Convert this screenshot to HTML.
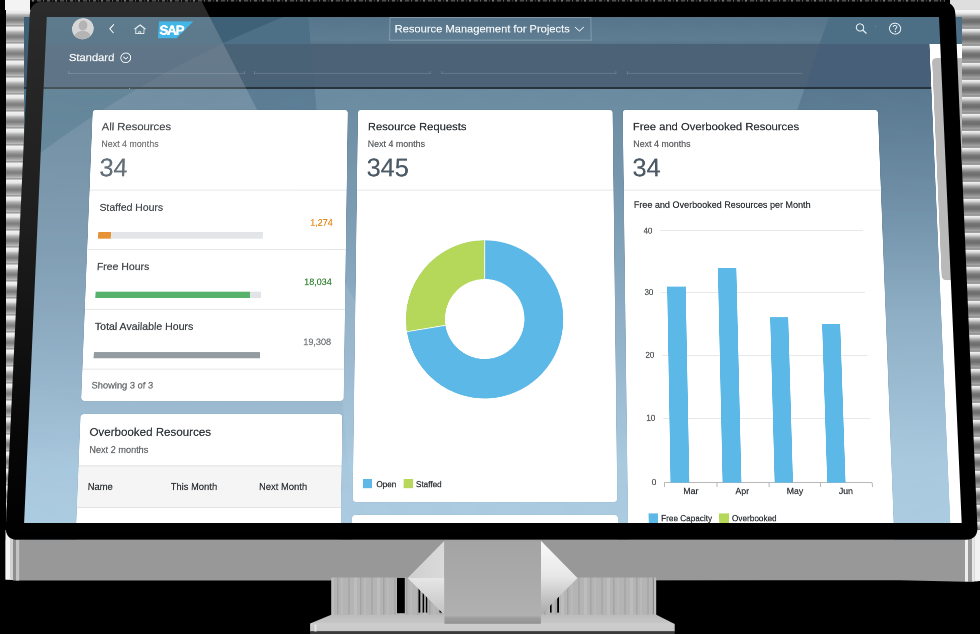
<!DOCTYPE html>
<html><head><meta charset="utf-8"><style>
html,body{margin:0;padding:0}
body{width:980px;height:634px;background:#000;overflow:hidden;position:relative;font-family:"Liberation Sans", sans-serif}
.t{position:absolute;white-space:nowrap;line-height:1;font-family:"Liberation Sans", sans-serif;-webkit-text-stroke:0.22px currentColor}
#clip{position:absolute;left:24px;top:16.7px;width:938px;height:523px;overflow:hidden;background:#7090a6}
#screen{position:absolute;left:0;top:0;width:1930px;height:1112px;transform-origin:0 0;transform:matrix3d(0.97508197,-0.00000000,0,-0.0000000000,-0.04716790,0.95035652,0,-0.0000956947,0,0,1,0,46.800000,16.700000,0,1) scale(0.5)}
#inner{position:absolute;left:0;top:0;width:1px;height:1px;zoom:2}
.streak{position:absolute;background:repeating-linear-gradient(180deg,#f2f2f2 0px,#e6e6e6 3px,#b4b4b4 5px,#8a8a8a 8px,#7c7c7c 10px,#9a9a9a 12.5px,#b8b8b8 14.5px,#8e8e8e 16px,#f2f2f2 17px)}
.streakR{position:absolute;background:repeating-linear-gradient(180deg,#f4f4f4 0px,#dcdcdc 2px,#a4a4a4 4.5px,#767676 7.5px,#6c6c6c 10px,#8c8c8c 13px,#a8a8a8 15px,#7a7a7a 16.3px,#f4f4f4 17px)}
</style></head><body>
<div class="streak" style="left:5.5px;top:10px;width:26px;height:570px"></div>
<div class="streakR" style="left:955px;top:12px;width:25px;height:568px"></div>
<div style="position:absolute;left:5px;top:0;width:25px;height:10px;background:#f3f3f3"></div>
<div style="position:absolute;left:950px;top:0;width:30px;height:10px;background:#dedede"></div><div style="position:absolute;left:950px;top:10px;width:30px;height:2px;background:#f4f4f4"></div>
<div id="clip"><div id="screen" style="margin-left:-24px;margin-top:-16.7px"><div id="inner">
<svg style="position:absolute;left:-40px;top:-20px" width="1000" height="560" viewBox="-40 -20 1000 560"><defs><clipPath id="band1"><rect x="-40" y="28.5" width="1000" height="45.1"/></clipPath><clipPath id="band0"><rect x="-40" y="-20.0" width="1000" height="48.5"/></clipPath><clipPath id="outC"><path clip-rule="evenodd" d="M -40 -20 H 960 V 540 H -40 Z M -411.3 978.6 a 1058.1 1058.1 0 1 0 2116.2 0 a 1058.1 1058.1 0 1 0 -2116.2 0 Z"/></clipPath><clipPath id="inC"><path d="M -411.3 978.6 a 1058.1 1058.1 0 1 0 2116.2 0 a 1058.1 1058.1 0 1 0 -2116.2 0 Z"/></clipPath><linearGradient id="hdrC" gradientUnits="userSpaceOnUse" x1="0" y1="0" x2="0" y2="28.5"><stop offset="0" stop-color="#57758a"/><stop offset="0.85" stop-color="#5e7d92"/><stop offset="1" stop-color="#587489"/></linearGradient><linearGradient id="cbg" gradientUnits="userSpaceOnUse" x1="0" y1="73" x2="0" y2="506"><stop offset="0" stop-color="#6a8aa0"/><stop offset="0.29" stop-color="#7b9bb2"/><stop offset="0.87" stop-color="#a9c9df"/><stop offset="1" stop-color="#abcbe1"/></linearGradient><linearGradient id="gB" gradientUnits="userSpaceOnUse" x1="0" y1="73" x2="0" y2="506"><stop offset="0" stop-color="#002846" stop-opacity="0.15"/><stop offset="0.4" stop-color="#002846" stop-opacity="0.12"/><stop offset="0.95" stop-color="#002846" stop-opacity="0"/></linearGradient><linearGradient id="gD" gradientUnits="userSpaceOnUse" x1="0" y1="73" x2="0" y2="300"><stop offset="0" stop-color="#001e3c" stop-opacity="0.17"/><stop offset="1" stop-color="#001e3c" stop-opacity="0"/></linearGradient></defs><rect x="-40" y="73" width="1000" height="467" fill="url(#cbg)"/><g clip-path="url(#inC)"><polygon points="-40,-20 266,-20 325,540 -40,540" fill="url(#gB)"/></g><g clip-path="url(#outC)"><rect x="-40" y="73" width="600" height="200" fill="#003750" fill-opacity="0.3"/></g><polygon points="809.5,-20 960,-20 960,540 605,540" fill="url(#gD)"/><g clip-path="url(#band0)"><rect x="-40" y="-20.0" width="1000" height="48.5" fill="url(#hdrC)"/><g clip-path="url(#inC)"><polygon points="-40,-20 266,-20 325,540 -40,540" fill="#4e7086"/></g><g clip-path="url(#outC)"><rect x="-40" y="-20.0" width="600" height="48.5" fill="#3f6178"/></g><polygon points="809.5,-20 960,-20 960,540 605,540" fill="#4d6f85"/></g><g clip-path="url(#band1)"><rect x="-40" y="28.5" width="1000" height="45.1" fill="#4c6377"/><g clip-path="url(#inC)"><polygon points="-40,-20 266,-20 325,540 -40,540" fill="#4a6276"/></g><g clip-path="url(#outC)"><rect x="-40" y="28.5" width="600" height="45.1" fill="#435c71"/></g><polygon points="809.5,-20 960,-20 960,540 605,540" fill="#475f79"/></g></svg>
<div style="position:absolute;left:-30.00px;top:73.60px;width:933.80px;height:2.00px;background:#27343d;"></div>
<div style="position:absolute;left:24.60px;top:58.70px;width:179.80px;height:1.00px;background:rgba(190,205,218,0.24);"></div>
<div style="position:absolute;left:24.60px;top:56.70px;width:0.80px;height:3.00px;background:rgba(190,205,218,0.24);"></div>
<div style="position:absolute;left:203.60px;top:56.70px;width:0.80px;height:3.00px;background:rgba(190,205,218,0.24);"></div>
<div style="position:absolute;left:213.90px;top:58.70px;width:179.90px;height:1.00px;background:rgba(190,205,218,0.24);"></div>
<div style="position:absolute;left:213.90px;top:56.70px;width:0.80px;height:3.00px;background:rgba(190,205,218,0.24);"></div>
<div style="position:absolute;left:393.00px;top:56.70px;width:0.80px;height:3.00px;background:rgba(190,205,218,0.24);"></div>
<div style="position:absolute;left:405.00px;top:58.70px;width:178.50px;height:1.00px;background:rgba(190,205,218,0.24);"></div>
<div style="position:absolute;left:405.00px;top:56.70px;width:0.80px;height:3.00px;background:rgba(190,205,218,0.24);"></div>
<div style="position:absolute;left:582.70px;top:56.70px;width:0.80px;height:3.00px;background:rgba(190,205,218,0.24);"></div>
<div style="position:absolute;left:594.00px;top:58.70px;width:179.20px;height:1.00px;background:rgba(190,205,218,0.24);"></div>
<div style="position:absolute;left:594.00px;top:56.70px;width:0.80px;height:3.00px;background:rgba(190,205,218,0.24);"></div>
<div style="position:absolute;left:772.40px;top:56.70px;width:0.80px;height:3.00px;background:rgba(190,205,218,0.24);"></div>
<div class="t" style="left:24.52px;top:37.10px;font-size:11.40px;color:#f2f5f7;">Standard</div>
<svg style="position:absolute;left:76.4px;top:37.2px" width="12" height="12" viewBox="0 0 12 12"><circle cx="6" cy="6" r="5" fill="none" stroke="#e8eef2" stroke-width="0.9"/><path d="M3.6 5 L6 7.3 L8.4 5" fill="none" stroke="#e8eef2" stroke-width="0.9"/></svg>
<svg style="position:absolute;left:26px;top:1px" width="24" height="24" viewBox="0 0 24 24"><defs><clipPath id="av"><circle cx="11.5" cy="11.6" r="11.1"/></clipPath></defs><circle cx="11.5" cy="11.6" r="11.1" fill="#cfcfcf"/><g clip-path="url(#av)" fill="#a6a6a6"><ellipse cx="11.5" cy="8.2" rx="4.5" ry="5.3"/><ellipse cx="11.5" cy="22.5" rx="9.2" ry="8.6"/></g></svg>
<svg style="position:absolute;left:62.3px;top:6px" width="10" height="14" viewBox="0 0 10 14"><path d="M6.6 2.0 L2.6 6.6 L6.6 11.2" fill="none" stroke="#eef3f6" stroke-width="1.05"/></svg>
<svg style="position:absolute;left:89px;top:6.5px" width="14" height="12" viewBox="0 0 14 12"><path d="M1.3 6.6 L7 2.2 L12.7 6.6" fill="none" stroke="#dde5ea" stroke-width="1.35"/><path d="M2.8 6 V11 H11.2 V6 M6 11 V9.3 H8 V11" fill="none" stroke="#dde5ea" stroke-width="0.95"/></svg>
<svg style="position:absolute;left:115.2px;top:4.8px" width="37" height="18" viewBox="0 0 37 18"><polygon points="0,0 35.4,0 18.8,17.6 0,17.6" fill="#1ea8e2"/><text x="1.0" y="13.7" font-family="Liberation Sans" font-weight="bold" font-size="13.6" fill="#fff" stroke="#fff" stroke-width="0.5" letter-spacing="-1.15">SAP</text></svg>
<div style="position:absolute;left:351.4px;top:0.7px;width:205px;height:22.4px;border:1px solid rgba(190,210,222,0.4);"></div>
<div class="t" style="left:356.92px;top:7.20px;font-size:11.40px;color:#f2f5f7;">Resource Management for Projects</div>
<svg style="position:absolute;left:540.5px;top:9.3px" width="12" height="8" viewBox="0 0 12 8"><path d="M1 1.2 L5.6 5.6 L10.2 1.2" fill="none" stroke="#e8eef2" stroke-width="0.95"/></svg>
<svg style="position:absolute;left:828px;top:6px" width="14" height="14" viewBox="0 0 14 14"><circle cx="5.6" cy="5.3" r="3.8" fill="none" stroke="#e8eef2" stroke-width="1.1"/><path d="M8.3 8 L12 11.6" stroke="#e8eef2" stroke-width="1.3"/></svg>
<svg style="position:absolute;left:862.5px;top:5.5px" width="14" height="14" viewBox="0 0 14 14"><circle cx="7" cy="7" r="5.7" fill="none" stroke="#e8eef2" stroke-width="1"/><path d="M5.1 5.4 C5.1 3.4 8.9 3.4 8.9 5.3 C8.9 6.6 7 6.7 7 8.3" fill="none" stroke="#e8eef2" stroke-width="1"/><circle cx="7" cy="10" r="0.7" fill="#e8eef2"/></svg>
<div style="position:absolute;left:903.80px;top:28.50px;width:41.20px;height:491.50px;background:#ffffff;"></div>
<div style="position:absolute;left:906.20px;top:43.60px;width:38.80px;height:225.90px;background:#b9b9b9;border-radius:4px;"></div>
<div style="position:absolute;left:51.10px;top:97.10px;width:258.90px;height:291.30px;background:#fff;border-radius:3px;box-shadow:0 0 1px rgba(0,0,0,0.15)"></div>
<div class="t" style="left:60.72px;top:108.60px;font-size:11.40px;color:#2e3236;">All Resources</div>
<div class="t" style="left:60.96px;top:127.33px;font-size:9.00px;color:#5f6265;">Next 4 months</div>
<div class="t" style="left:60.07px;top:143.71px;font-size:25.50px;color:#4c5a66;">34</div>
<div style="position:absolute;left:51.10px;top:178.70px;width:258.90px;height:1.00px;background:#e5e5e5;"></div>
<div class="t" style="left:61.67px;top:191.21px;font-size:10.50px;color:#2e3236;">Staffed Hours</div>
<div class="t" style="left:296.56px;transform:translateX(-100%);top:207.63px;font-size:9.00px;color:#e8891b;">1,274</div>
<div style="position:absolute;left:61.60px;top:221.70px;width:165.10px;height:6.30px;background:#dfe3e5;"></div>
<div style="position:absolute;left:61.60px;top:221.70px;width:12.20px;height:6.30px;background:#e2861d;"></div>
<div style="position:absolute;left:51.10px;top:238.40px;width:258.90px;height:1.00px;background:#e5e5e5;"></div>
<div class="t" style="left:61.27px;top:250.51px;font-size:10.50px;color:#2e3236;">Free Hours</div>
<div class="t" style="left:296.56px;transform:translateX(-100%);top:267.03px;font-size:9.00px;color:#2b7d2b;">18,034</div>
<div style="position:absolute;left:61.20px;top:281.00px;width:165.00px;height:6.30px;background:#dfe3e5;"></div>
<div style="position:absolute;left:61.20px;top:281.00px;width:154.00px;height:6.30px;background:#48ab5f;"></div>
<div style="position:absolute;left:51.10px;top:298.10px;width:258.90px;height:1.00px;background:#e5e5e5;"></div>
<div class="t" style="left:61.67px;top:310.11px;font-size:10.50px;color:#2e3236;">Total Available Hours</div>
<div class="t" style="left:296.76px;transform:translateX(-100%);top:326.53px;font-size:9.00px;color:#6a6d70;">19,308</div>
<div style="position:absolute;left:61.50px;top:340.80px;width:165.10px;height:6.20px;background:#8c969b;"></div>
<div style="position:absolute;left:51.10px;top:357.20px;width:258.90px;height:1.00px;background:#e5e5e5;"></div>
<div class="t" style="left:60.65px;top:368.91px;font-size:9.20px;color:#5f6265;">Showing 3 of 3</div>
<div style="position:absolute;left:320.30px;top:97.10px;width:258.90px;height:389.10px;background:#fff;border-radius:3px;box-shadow:0 0 1px rgba(0,0,0,0.15)"></div>
<div class="t" style="left:330.62px;top:108.60px;font-size:11.40px;color:#2e3236;">Resource Requests</div>
<div class="t" style="left:330.76px;top:127.33px;font-size:9.00px;color:#5f6265;">Next 4 months</div>
<div class="t" style="left:329.97px;top:143.71px;font-size:25.50px;color:#4c5a66;">345</div>
<div style="position:absolute;left:320.30px;top:178.70px;width:258.90px;height:1.00px;background:#e5e5e5;"></div>
<svg style="position:absolute;left:0;top:0;overflow:visible" width="1" height="1"><circle cx="449.30" cy="308.00" r="58.90" fill="none" stroke="#5cb8e6" stroke-width="38.80"/><path d="M449.30 308.00 L449.30 229.70 A78.30 78.30 0 0 0 372.04 320.73 Z" fill="#b6d85a"/><circle cx="449.30" cy="308.00" r="39.50" fill="#fff"/><path d="M449.30 268.50 L449.30 229.70 M410.33 314.42 L372.04 320.73" stroke="#fff" stroke-width="0.8"/></svg>
<div style="position:absolute;left:329.90px;top:464.20px;width:9.30px;height:8.70px;background:#5cb8e6;"></div>
<div class="t" style="left:343.32px;top:465.53px;font-size:8.00px;color:#2e3236;">Open</div>
<div style="position:absolute;left:370.10px;top:464.20px;width:9.30px;height:8.70px;background:#b6d85a;"></div>
<div class="t" style="left:382.12px;top:465.53px;font-size:8.00px;color:#2e3236;">Staffed</div>
<div style="position:absolute;left:319.80px;top:498.60px;width:259.90px;height:61.40px;background:#fff;border-radius:3px;box-shadow:0 0 1px rgba(0,0,0,0.15)"></div>
<div style="position:absolute;left:589.70px;top:97.10px;width:259.00px;height:462.90px;background:#fff;border-radius:3px;box-shadow:0 0 1px rgba(0,0,0,0.15)"></div>
<div class="t" style="left:599.52px;top:108.60px;font-size:11.40px;color:#2e3236;">Free and Overbooked Resources</div>
<div class="t" style="left:599.66px;top:127.33px;font-size:9.00px;color:#5f6265;">Next 4 months</div>
<div class="t" style="left:598.47px;top:143.71px;font-size:25.50px;color:#4c5a66;">34</div>
<div style="position:absolute;left:589.70px;top:178.70px;width:259.00px;height:1.00px;background:#e5e5e5;"></div>
<div class="t" style="left:599.35px;top:189.50px;font-size:9.10px;color:#2e3236;">Free and Overbooked Resources per Month</div>
<div style="position:absolute;left:625.30px;top:219.70px;width:203.70px;height:1.00px;background:#e8e8e8;"></div>
<div class="t" style="left:617.62px;transform:translateX(-100%);top:216.33px;font-size:8.00px;color:#5a5d60;">40</div>
<div style="position:absolute;left:625.30px;top:281.50px;width:203.70px;height:1.00px;background:#e8e8e8;"></div>
<div class="t" style="left:617.62px;transform:translateX(-100%);top:278.13px;font-size:8.00px;color:#5a5d60;">30</div>
<div style="position:absolute;left:625.30px;top:343.30px;width:203.70px;height:1.00px;background:#e8e8e8;"></div>
<div class="t" style="left:617.62px;transform:translateX(-100%);top:339.93px;font-size:8.00px;color:#5a5d60;">20</div>
<div style="position:absolute;left:625.30px;top:405.10px;width:203.70px;height:1.00px;background:#e8e8e8;"></div>
<div class="t" style="left:617.62px;transform:translateX(-100%);top:401.73px;font-size:8.00px;color:#5a5d60;">10</div>
<div class="t" style="left:617.62px;transform:translateX(-100%);top:463.53px;font-size:8.00px;color:#5a5d60;">0</div>
<div style="position:absolute;left:625.30px;top:466.90px;width:203.70px;height:1.00px;background:#b8b8b8;"></div>
<div style="position:absolute;left:624.80px;top:467.40px;width:1.00px;height:4.00px;background:#b8b8b8;"></div>
<div style="position:absolute;left:676.40px;top:467.40px;width:1.00px;height:4.00px;background:#b8b8b8;"></div>
<div style="position:absolute;left:727.50px;top:467.40px;width:1.00px;height:4.00px;background:#b8b8b8;"></div>
<div style="position:absolute;left:777.80px;top:467.40px;width:1.00px;height:4.00px;background:#b8b8b8;"></div>
<div style="position:absolute;left:828.40px;top:467.40px;width:1.00px;height:4.00px;background:#b8b8b8;"></div>
<div style="position:absolute;left:631.70px;top:275.82px;width:18.40px;height:191.58px;background:#5cb8e6;"></div>
<div style="position:absolute;left:682.50px;top:257.28px;width:18.40px;height:210.12px;background:#5cb8e6;"></div>
<div style="position:absolute;left:733.30px;top:306.72px;width:18.40px;height:160.68px;background:#5cb8e6;"></div>
<div style="position:absolute;left:784.80px;top:312.90px;width:18.40px;height:154.50px;background:#5cb8e6;"></div>
<div class="t" style="left:651.30px;top:471.32px;width:40px;margin-left:-20px;text-align:center;font-size:8.6px;color:#2e3236">Mar</div>
<div class="t" style="left:701.50px;top:471.32px;width:40px;margin-left:-20px;text-align:center;font-size:8.6px;color:#2e3236">Apr</div>
<div class="t" style="left:753.20px;top:471.32px;width:40px;margin-left:-20px;text-align:center;font-size:8.6px;color:#2e3236">May</div>
<div class="t" style="left:803.00px;top:471.32px;width:40px;margin-left:-20px;text-align:center;font-size:8.6px;color:#2e3236">Jun</div>
<div style="position:absolute;left:609.30px;top:497.20px;width:9.30px;height:8.80px;background:#5cb8e6;"></div>
<div class="t" style="left:621.72px;top:497.83px;font-size:8.00px;color:#2e3236;">Free Capacity</div>
<div style="position:absolute;left:678.50px;top:497.20px;width:9.30px;height:8.80px;background:#b6d85a;"></div>
<div class="t" style="left:690.92px;top:497.83px;font-size:8.00px;color:#2e3236;">Overbooked</div>
<div style="position:absolute;left:51.10px;top:401.70px;width:257.80px;height:158.30px;background:#fff;border-radius:3px;box-shadow:0 0 1px rgba(0,0,0,0.15)"></div>
<div class="t" style="left:60.32px;top:413.10px;font-size:11.40px;color:#2e3236;">Overbooked Resources</div>
<div class="t" style="left:60.86px;top:431.33px;font-size:9.00px;color:#5f6265;">Next 2 months</div>
<div style="position:absolute;left:51.10px;top:451.70px;width:257.80px;height:39.80px;background:#f5f5f5;"></div>
<div style="position:absolute;left:51.10px;top:451.20px;width:257.80px;height:1.00px;background:#e3e3e3;"></div>
<div style="position:absolute;left:51.10px;top:491.00px;width:257.80px;height:1.00px;background:#e3e3e3;"></div>
<div class="t" style="left:60.75px;top:467.11px;font-size:9.20px;color:#2e3236;">Name</div>
<div class="t" style="left:141.95px;top:467.11px;font-size:9.20px;color:#2e3236;">This Month</div>
<div class="t" style="left:228.55px;top:467.11px;font-size:9.20px;color:#2e3236;">Next Month</div>
</div></div></div>
<svg style="position:absolute;left:0;top:0" width="980" height="634" viewBox="0 0 980 634">
<defs>
<clipPath id="mon"><path d="M 42.9 1.8 L 942.3 1.8 Q 954.8 1.8 955.4 14.3 L 977.4 527.2 Q 978.0 539.7 965.5 539.7 L 18.0 539.7 Q 5.3 539.7 5.8 527.2 L 29.8 14.3 Q 30.4 1.8 42.9 1.8 Z"/></clipPath>
<linearGradient id="refl" x1="0" y1="0" x2="0" y2="1"><stop offset="0" stop-color="#fff" stop-opacity="0.17"/><stop offset="0.42" stop-color="#fff" stop-opacity="0.115"/><stop offset="0.8" stop-color="#fff" stop-opacity="0.03"/><stop offset="1" stop-color="#fff" stop-opacity="0.0"/></linearGradient>
<linearGradient id="neck" x1="0" y1="0" x2="0" y2="1"><stop offset="0" stop-color="#a4a4a4"/><stop offset="0.5" stop-color="#aaaaaa"/><stop offset="0.9" stop-color="#b0b0b0"/><stop offset="0.93" stop-color="#9e9e9e"/><stop offset="1" stop-color="#929292"/></linearGradient>
<linearGradient id="wingLt" x1="0" y1="0" x2="1" y2="0"><stop offset="0" stop-color="#cfcfcf"/><stop offset="1" stop-color="#dadada"/></linearGradient>
<linearGradient id="wingLb" x1="0" y1="0" x2="0" y2="1"><stop offset="0" stop-color="#e6e6e6"/><stop offset="1" stop-color="#c2c2c2"/></linearGradient>
<linearGradient id="wingRt" x1="0" y1="0" x2="0" y2="1"><stop offset="0" stop-color="#fbfbfb"/><stop offset="1" stop-color="#e6e6e6"/></linearGradient>
<linearGradient id="wingRb" x1="0" y1="0" x2="0" y2="1"><stop offset="0" stop-color="#e4e4e4"/><stop offset="1" stop-color="#a8a8a8"/></linearGradient>
<linearGradient id="base" x1="0" y1="0" x2="0" y2="1"><stop offset="0" stop-color="#bcbcbc"/><stop offset="0.5" stop-color="#c6c6c6"/><stop offset="0.53" stop-color="#cdcdcd"/><stop offset="1" stop-color="#c8c8c8"/></linearGradient>
<pattern id="stk" x="0" y="0" width="23" height="40" patternUnits="userSpaceOnUse"><rect width="23" height="40" fill="#b4b4b4"/><rect x="3" width="2" height="40" fill="#a9a9a9"/><rect x="9" width="3" height="40" fill="#bdbdbd"/><rect x="15" width="1.5" height="40" fill="#a4a4a4"/><rect x="19" width="2" height="40" fill="#b9b9b9"/></pattern>
<pattern id="noise" x="0" y="0" width="23" height="2" patternUnits="userSpaceOnUse"><rect width="23" height="2" fill="#111"/><rect x="1" width="3" height="2" fill="#5a5a5a"/><rect x="6" width="1" height="2" fill="#3a3a3a"/><rect x="9" width="2" height="2" fill="#707070"/><rect x="14" width="4" height="2" fill="#4a4a4a"/><rect x="20" width="1" height="2" fill="#666"/></pattern>
</defs>
<!-- chin -->
<polygon points="5.5,539.7 978,539.7 978,581.5 965,581.8 900,580.3 20,580.6 5.5,579.5" fill="#989898"/>
<rect x="5.5" y="530" width="4.5" height="49.5" fill="#f4f4f4"/>
<rect x="10" y="530" width="3" height="50" fill="#d2d2d2"/>
<rect x="13" y="530" width="3" height="50.5" fill="#8e8e8e"/>
<rect x="16" y="530" width="3.2" height="50.6" fill="#c4c4c4"/>
<rect x="965" y="530" width="3" height="51.5" fill="#eeeeee"/>
<rect x="968" y="530" width="4" height="51.5" fill="#9a9a9a"/>
<rect x="972" y="530" width="2.5" height="51.5" fill="#e8e8e8"/>
<rect x="974.5" y="530" width="5.5" height="51" fill="#f2f2f2"/>
<path d="M 42.9 1.8 L 942.3 1.8 Q 954.8 1.8 955.4 14.3 L 977.4 527.2 Q 978.0 539.7 965.5 539.7 L 18.0 539.7 Q 5.3 539.7 5.8 527.2 L 29.8 14.3 Q 30.4 1.8 42.9 1.8 Z M 46.8 16.7 L 939.0 16.7 L 961.7 522.9 L 24.1 522.9 Z" fill="#000" fill-rule="evenodd"/>
<g clip-path="url(#mon)"><polygon points="0,0 201,0 476.8,540 0,540" fill="url(#refl)"/></g>
<!-- behind wings streak area -->
<rect x="331.2" y="577.5" width="325" height="37.5" fill="url(#stk)"/>
<rect x="397" y="577.9" width="7.8" height="35.3" fill="#000"/>
<rect x="418.5" y="588" width="1.8" height="24.6" fill="#000"/>
<rect x="422.6" y="592" width="1.6" height="20.6" fill="#000"/>
<rect x="425.8" y="595" width="1.5" height="17.6" fill="#000"/>
<rect x="439.5" y="609.5" width="3.5" height="3.1" fill="#000"/>
<rect x="550" y="603" width="1.6" height="9.6" fill="#000"/>
<rect x="557.2" y="595" width="1.8" height="17.6" fill="#000"/>
<rect x="652.8" y="577.5" width="1.2" height="37" fill="#8a8a8a"/>
<!-- base -->
<polygon points="331.2,614.7 656.3,614.7 674.7,623.9 674.7,631.5 310.1,631.5 310.1,623.6" fill="url(#base)"/>
<rect x="310.1" y="631.5" width="364.6" height="2.5" fill="#3a3a3a"/>
<rect x="314.5" y="624.5" width="2" height="7" fill="#e6e6e6"/>
<!-- wings -->
<polygon points="444.4,540.7 407.7,577.9 444.4,577.9" fill="url(#wingLt)"/>
<polygon points="407.7,577.9 444.4,577.9 444.4,615" fill="url(#wingLb)"/>
<polygon points="540.9,540.7 577.5,577.9 540.9,577.9" fill="url(#wingRt)"/>
<polygon points="577.5,577.9 540.9,577.9 540.9,615" fill="url(#wingRb)"/>
<!-- neck -->
<rect x="444.4" y="540.2" width="96.5" height="83.6" fill="url(#neck)"/>
<!-- top noise -->
<rect x="30" y="0" width="915" height="1.6" fill="url(#noise)"/>
</svg>
</body></html>
